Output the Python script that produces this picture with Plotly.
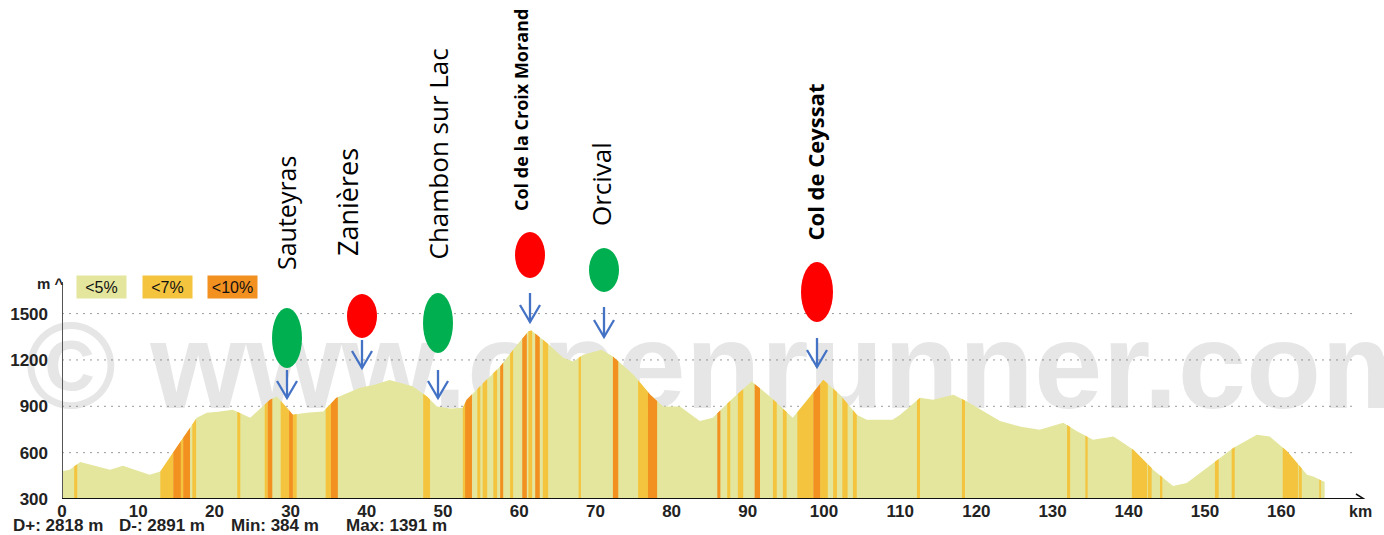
import numpy as np
import plotly.graph_objects as go

# ------------------------------------------------------------------ data
km = [0, 1.0, 2.4, 4.0, 6.3, 8.0, 9.5, 11.5, 12.9, 15.0, 16.8, 17.7, 19.0, 20.5,
      22.4, 24.7, 27.3, 28.2, 30.3, 32.1, 34.3, 36.0, 39.1, 41.0, 43.0, 44.4,
      46.0, 47.9, 49.2, 51.0, 52.6, 53.1, 55.7, 57.5, 59.2, 61.2, 61.6, 61.8,
      63.6, 65.8, 67.1, 68.4, 70.8, 72.3, 75.0, 77.2, 78.9, 81.1, 83.7, 85.4,
      88.1, 90.5, 92.9, 95.9, 98.2, 99.9, 102.1, 104.3, 105.6, 109.0, 110.0,
      112.6, 114.3, 117.0, 118.7, 123.1, 125.7, 128.3, 131.4, 133.2, 135.3,
      138.0, 140.6, 143.2, 145.8, 147.6, 151.1, 153.7, 156.8, 158.5, 160.8,
      163.4, 164.2, 165.5, 165.7]
elev = [480, 490, 540, 520, 490, 515, 490, 457, 478, 632, 761, 826, 859, 865,
        878, 826, 943, 964, 846, 859, 867, 955, 1020, 1040, 1070, 1053,
        1029, 964, 899, 885, 890, 943, 1072, 1158, 1266, 1385, 1391, 1383,
        1312, 1214, 1190, 1234, 1266, 1223, 1104, 975, 899, 899, 805, 826,
        955, 1061, 964, 826, 964, 1072, 975, 846, 813, 813, 846,
        955, 943, 975, 932, 805, 770, 748, 794, 738, 684,
        705, 619, 490, 384, 404, 533, 630, 716, 705, 608,
        457, 446, 414, 410]

stripe_start = [1.6, 12.9, 14.6, 15.6, 15.9, 17.1, 23.0, 26.6, 27.0, 28.7, 29.8, 30.3,
                34.6, 35.3, 47.4, 52.6, 52.9, 54.5, 55.2, 56.6, 57.5, 58.8, 60.4,
                61.2, 62.1, 63.1, 67.8, 72.3, 75.6, 76.9, 86.0, 87.3, 88.7, 90.9,
                93.3, 94.6, 96.5, 98.6, 99.5, 101.2, 102.4, 103.8, 112.2, 118.1,
                131.9, 134.3, 140.4, 142.5, 144.1, 151.3, 153.5, 160.2, 162.3, 165.0]
stripe_end = [2.0, 14.6, 15.6, 15.9, 16.8, 17.6, 23.4, 27.0, 27.6, 29.8, 30.3, 30.8,
              35.3, 36.2, 48.3, 52.9, 53.8, 54.9, 55.8, 57.1, 57.9, 59.2, 61.0,
              61.7, 62.7, 63.8, 68.1, 73.0, 76.9, 78.1, 86.4, 87.7, 89.4, 91.6,
              93.8, 95.1, 98.6, 99.5, 100.5, 101.7, 103.1, 104.3, 112.6, 118.5,
              132.3, 134.6, 142.4, 143.0, 144.4, 151.8, 153.9, 162.2, 162.7, 165.2]
stripe_grade = [7, 7, 10, 7, 10, 7, 7, 7, 10, 7, 10, 7,
                7, 10, 7, 7, 10, 7, 7, 7, 10, 7, 10,
                7, 10, 7, 7, 10, 7, 10, 10, 7, 7, 10,
                7, 7, 7, 10, 7, 7, 7, 7, 7, 7,
                7, 7, 7, 7, 7, 7, 7, 7, 7, 7]

x_ticks = list(range(0, 170, 10))
y_ticks = [300, 600, 900, 1200, 1500]
legend_labels = ["<5%", "<7%", "<10%"]
places = ["Sauteyras", "Zanières", "Chambon sur Lac", "Col de la Croix Morand",
          "Orcival", "Col de Ceyssat"]
place_km = [29.5, 39.4, 49.2, 61.4, 71.1, 99.1]
place_kind = ["green", "red", "green", "red", "green", "red"]
place_bold = [False, False, False, True, False, True]
stats_labels = ["D+", "D-", "Min", "Max"]
stats_values = [2818, 2891, 384, 1391]
watermark = "© www.openrunner.com"

# ------------------------------------------------------------------ geometry / styles
W, H = 1384, 535
L, R, T, B = 62, 14, 5, 36
PX_PER_KM = 7.62
PX_PER_M = 0.1545
Y0 = 300


def kx(px):
    return (px - L) / PX_PER_KM


def my(py):
    return Y0 + (H - B - py) / PX_PER_M


def dkx(dpx):
    return dpx / PX_PER_KM


def dmy(dpx):
    return dpx / PX_PER_M


def xp(px):
    return (px - L) / (W - L - R)


def yp(py):
    return (H - B - py) / (H - T - B)


BASE = "#e4e69d"
C7 = "#f4c43e"
C10 = "#f29020"
GREEN = "#00b050"
RED = "#ff0000"
BLUE = "#4472c4"
FONT = "Liberation Sans, Arial, sans-serif"
LABEL_FONT = "Open Sans, sans-serif"

# label / marker layout in pixels
label_cx = [286, 347, 437, 521, 601, 814]
label_bottom = [272, 258, 262, 213, 228, 243]
label_size = [25, 27, 26, 18, 26, 22]
ell_cy = [338, 316, 323, 255, 270, 292]
ell_h = [60, 44, 60, 46, 44, 60]
ell_w = [30, 30, 30, 30, 30, 32]
ell_cx = [287, 362, 438, 530, 604, 817]
arrow_top = [370, 340, 370, 293, 307, 338]
arrow_tip = [398, 368, 398, 322, 337, 367]

fig = go.Figure()

# watermark (behind profile)
fig.add_trace(go.Scatter(
    x=[kx(728)], y=[my(377)], mode="text", text=[watermark],
    textposition="middle center", cliponaxis=False,
    textfont=dict(family="Liberation Sans, Arial, sans-serif", size=123, weight="bold",
                  color="rgba(120,120,120,0.19)"),
    hoverinfo="skip", showlegend=False))

# base profile
fig.add_trace(go.Scatter(
    x=km, y=elev, mode="lines", line=dict(width=0, color=BASE),
    fill="tozeroy", fillcolor=BASE, hoverinfo="skip", showlegend=False))

# gradient stripes
km_arr = np.array(km, dtype=float)
el_arr = np.array(elev, dtype=float)
for grade, col in ((7, C7), (10, C10)):
    xs, ys = [], []
    for s, e, g in zip(stripe_start, stripe_end, stripe_grade):
        if g != grade:
            continue
        inner = km_arr[(km_arr > s) & (km_arr < e)]
        px = np.concatenate([[s], inner, [e]])
        py = np.interp(px, km_arr, el_arr)
        xs += [s] + list(px) + [e, None]
        ys += [Y0] + list(py) + [Y0, None]
    fig.add_trace(go.Scatter(
        x=xs, y=ys, mode="lines", line=dict(width=0, color=col),
        fill="toself", fillcolor=col, hoverinfo="skip", showlegend=False))

# arrows
for i, k in enumerate(place_km):
    xa = kx(ell_cx[i])
    ytop = my(arrow_top[i])
    ytip = my(arrow_tip[i])
    hx, hy = dkx(10), dmy(17)
    fig.add_trace(go.Scatter(
        x=[xa, xa, None, xa - hx, xa, xa + hx],
        y=[ytop, ytip, None, ytip + hy, ytip, ytip + hy],
        mode="lines", line=dict(color=BLUE, width=2.3),
        hoverinfo="skip", showlegend=False))

shapes = []
# dotted gridlines
for v in y_ticks[1:]:
    shapes.append(dict(type="line", xref="x", yref="y", x0=0, x1=kx(1352), y0=v, y1=v,
                       line=dict(color="#9a9a9a", width=1, dash="2px,5px"), layer="below"))
# ellipses
for i in range(len(places)):
    col = GREEN if place_kind[i] == "green" else RED
    shapes.append(dict(type="circle", xref="x", yref="y",
                       x0=kx(ell_cx[i] - ell_w[i] / 2), x1=kx(ell_cx[i] + ell_w[i] / 2),
                       y0=my(ell_cy[i] + ell_h[i] / 2), y1=my(ell_cy[i] - ell_h[i] / 2),
                       fillcolor=col, line=dict(width=0)))
# y axis line
shapes.append(dict(type="line", xref="x", yref="y", x0=0, x1=0, y0=Y0, y1=my(282),
                   line=dict(color="#555555", width=2)))
# x axis line with arrow head
shapes.append(dict(type="line", xref="x", yref="y", x0=0, x1=kx(1364), y0=Y0, y1=Y0,
                   line=dict(color="#111111", width=2)))
shapes.append(dict(type="path", xref="x", yref="y",
                   path=f"M {kx(1356)},{my(494)} L {kx(1364)},{Y0} L {kx(1356)},{my(504)}",
                   line=dict(color="#111111", width=1.5)))

annotations = []
for i, name in enumerate(places):
    txt = f"<b>{name}</b>" if place_bold[i] else name
    annotations.append(dict(
        x=xp(label_cx[i]), y=yp(label_bottom[i]), xref="paper", yref="paper",
        text=txt, textangle=-90, showarrow=False, xanchor="center", yanchor="bottom",
        font=dict(family=LABEL_FONT, size=label_size[i], color="#000000")))

# legend boxes
leg_cols = [BASE, C7, C10]
leg_x0 = [76, 142, 207]
for lab, col, x0 in zip(legend_labels, leg_cols, leg_x0):
    annotations.append(dict(
        x=xp(x0), y=yp(287), xref="paper", yref="paper", xanchor="left", yanchor="middle",
        text=lab, showarrow=False, bgcolor=col, width=47, height=20, align="center",
        font=dict(family=FONT, size=16, color="#111111")))

annotations.append(dict(x=xp(66), y=yp(283), xref="paper", yref="paper", xanchor="right",
                        yanchor="middle", text="<b>m ^</b>", showarrow=False,
                        font=dict(family=FONT, size=15, color="#222222")))
annotations.append(dict(x=xp(1360), y=yp(511), xref="paper", yref="paper", xanchor="center",
                        yanchor="middle", text="<b>km</b>", showarrow=False,
                        font=dict(family=FONT, size=16, color="#222222")))
stats_x = [11, 117, 229, 344]
for lab, val, sx in zip(stats_labels, stats_values, stats_x):
    annotations.append(dict(x=xp(sx), y=yp(525), xref="paper", yref="paper", xanchor="left",
                            yanchor="middle", text=f"<b>{lab}: {val} m</b>",
                            showarrow=False,
                            font=dict(family=FONT, size=17, color="#222222")))

fig.update_layout(
    width=W, height=H, margin=dict(l=L, r=R, t=T, b=B, autoexpand=False),
    paper_bgcolor="white", plot_bgcolor="white",
    showlegend=False, hovermode=False,
    shapes=shapes, annotations=annotations,
    xaxis=dict(range=[0, (W - L - R) / PX_PER_KM], tickvals=x_ticks,
               ticktext=[str(t) for t in x_ticks], showgrid=False, zeroline=False,
               showline=False, ticks="", ticklen=0, ticklabelstandoff=0, automargin=False,
               tickfont=dict(family=FONT, size=17, color="#222222", weight="bold")),
    yaxis=dict(range=[Y0, Y0 + (H - T - B) / PX_PER_M], tickvals=y_ticks,
               ticktext=[str(t) for t in y_ticks], showgrid=False, zeroline=False,
               showline=False, ticks="", ticklen=0, ticklabelstandoff=13, automargin=False,
               tickfont=dict(family=FONT, size=17, color="#222222", weight="bold")),
)

fig.write_html("out.html", config={"staticPlot": True},
               post_script="document.body.style.margin='0';document.body.style.padding='0';")
